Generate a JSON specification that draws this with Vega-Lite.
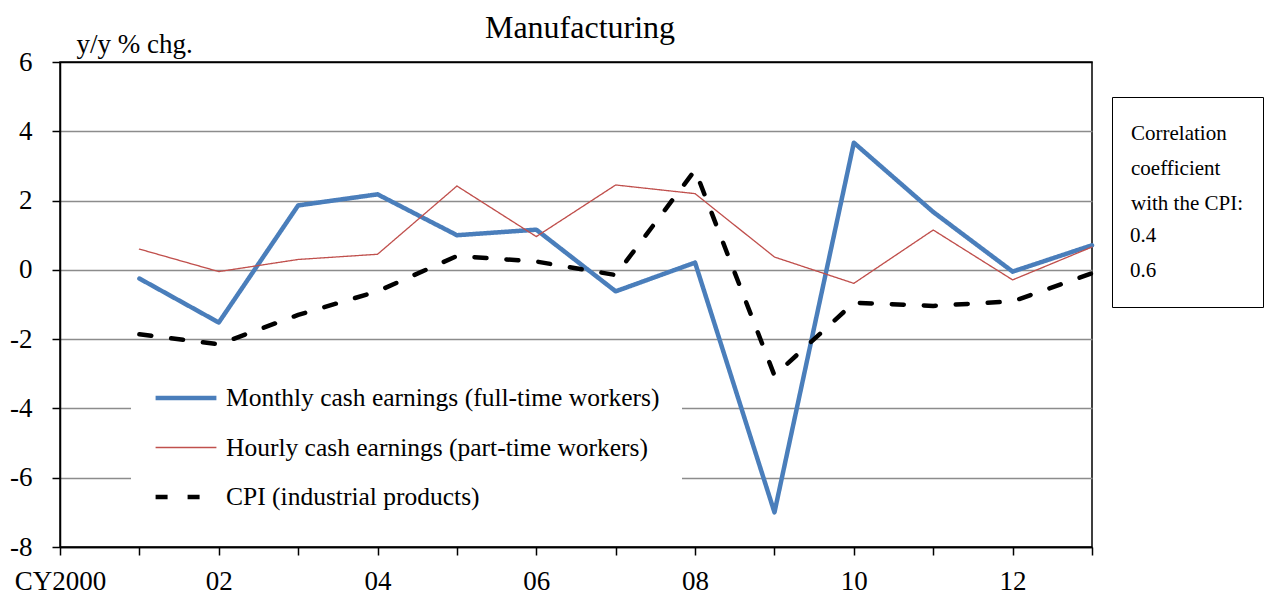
{
  "$schema": "https://vega.github.io/schema/vega-lite/v6.json",
  "width": 1032,
  "height": 485,
  "autosize": {"type": "none"},
  "padding": {"left": 60, "top": 62, "right": 177, "bottom": 49},
  "background": "white",
  "title": {"text": "Manufacturing", "font": "Liberation Serif", "fontSize": 32, "fontWeight": "normal", "color": "black", "frame": "group", "anchor": "middle", "baseline": "alphabetic", "offset": -40, "dx": 4},
  "config": {"view": {"stroke": "black", "strokeWidth": 1.5}, "font": "Liberation Serif"},
  "datasets": {
    "series": [
      {"series": "Monthly cash earnings (full-time workers)", "year": 2001, "value": -0.25},
      {"series": "Monthly cash earnings (full-time workers)", "year": 2002, "value": -1.52},
      {"series": "Monthly cash earnings (full-time workers)", "year": 2003, "value": 1.86},
      {"series": "Monthly cash earnings (full-time workers)", "year": 2004, "value": 2.18},
      {"series": "Monthly cash earnings (full-time workers)", "year": 2005, "value": 1.0},
      {"series": "Monthly cash earnings (full-time workers)", "year": 2006, "value": 1.16},
      {"series": "Monthly cash earnings (full-time workers)", "year": 2007, "value": -0.62},
      {"series": "Monthly cash earnings (full-time workers)", "year": 2008, "value": 0.21},
      {"series": "Monthly cash earnings (full-time workers)", "year": 2009, "value": -7.0},
      {"series": "Monthly cash earnings (full-time workers)", "year": 2010, "value": 3.67},
      {"series": "Monthly cash earnings (full-time workers)", "year": 2011, "value": 1.67},
      {"series": "Monthly cash earnings (full-time workers)", "year": 2012, "value": -0.05},
      {"series": "Monthly cash earnings (full-time workers)", "year": 2013, "value": 0.71},
      {"series": "Hourly cash earnings (part-time workers)", "year": 2001, "value": 0.6},
      {"series": "Hourly cash earnings (part-time workers)", "year": 2002, "value": -0.05},
      {"series": "Hourly cash earnings (part-time workers)", "year": 2003, "value": 0.3},
      {"series": "Hourly cash earnings (part-time workers)", "year": 2004, "value": 0.45},
      {"series": "Hourly cash earnings (part-time workers)", "year": 2005, "value": 2.42},
      {"series": "Hourly cash earnings (part-time workers)", "year": 2006, "value": 0.96},
      {"series": "Hourly cash earnings (part-time workers)", "year": 2007, "value": 2.45},
      {"series": "Hourly cash earnings (part-time workers)", "year": 2008, "value": 2.2},
      {"series": "Hourly cash earnings (part-time workers)", "year": 2009, "value": 0.37},
      {"series": "Hourly cash earnings (part-time workers)", "year": 2010, "value": -0.39},
      {"series": "Hourly cash earnings (part-time workers)", "year": 2011, "value": 1.15},
      {"series": "Hourly cash earnings (part-time workers)", "year": 2012, "value": -0.29},
      {"series": "Hourly cash earnings (part-time workers)", "year": 2013, "value": 0.66},
      {"series": "CPI (industrial products)", "year": 2001, "value": -1.86},
      {"series": "CPI (industrial products)", "year": 2002, "value": -2.15},
      {"series": "CPI (industrial products)", "year": 2003, "value": -1.3},
      {"series": "CPI (industrial products)", "year": 2004, "value": -0.62},
      {"series": "CPI (industrial products)", "year": 2005, "value": 0.4},
      {"series": "CPI (industrial products)", "year": 2006, "value": 0.24},
      {"series": "CPI (industrial products)", "year": 2007, "value": -0.15},
      {"series": "CPI (industrial products)", "year": 2008, "value": 2.88},
      {"series": "CPI (industrial products)", "year": 2009, "value": -3.05},
      {"series": "CPI (industrial products)", "year": 2010, "value": -0.95},
      {"series": "CPI (industrial products)", "year": 2011, "value": -1.04},
      {"series": "CPI (industrial products)", "year": 2012, "value": -0.91},
      {"series": "CPI (industrial products)", "year": 2013, "value": -0.1}
    ],
    "corr": [
      {"series": "Monthly cash earnings (full-time workers)", "coef": "0.4"},
      {"series": "Hourly cash earnings (part-time workers)", "coef": "0.6"}
    ]
  },
  "layer": [
    {
      "data": {"name": "series"},
      "mark": {"type": "line", "strokeCap": "round", "strokeJoin": "round"},
      "encoding": {
        "x": {
          "field": "year", "type": "quantitative",
          "scale": {"domain": [2000, 2013], "nice": false, "zero": false},
          "axis": {
            "title": null, "grid": false,
            "values": [2000, 2001, 2002, 2003, 2004, 2005, 2006, 2007, 2008, 2009, 2010, 2011, 2012, 2013],
            "labelExpr": "datum.value == 2000 ? 'CY2000' : ((datum.value % 2 == 0 && datum.value < 2013) ? slice(toString(datum.value), 2) : '')",
            "labelFont": "Liberation Serif", "labelFontSize": 27, "labelColor": "black",
            "labelPadding": 13, "labelFlush": false, "labelOverlap": false,
            "domainColor": "black", "domainWidth": 1.5,
            "tickColor": "black", "tickWidth": 1.5, "tickSize": 8
          }
        },
        "y": {
          "field": "value", "type": "quantitative",
          "scale": {"domain": [-8, 6], "nice": false, "zero": false},
          "axis": {
            "values": [-8, -6, -4, -2, 0, 2, 4, 6],
            "labelExpr": "toString(datum.value)",
            "title": "y/y % chg.", "titleAngle": 0, "titleX": 16, "titleY": -10,
            "titleAlign": "left", "titleBaseline": "alphabetic",
            "titleFont": "Liberation Serif", "titleFontSize": 27, "titleFontWeight": "normal", "titleColor": "black",
            "grid": true,
            "gridColor": {"condition": {"test": "datum.value == 6 || datum.value == -8", "value": "black"}, "value": "#8c8c8c"},
            "gridWidth": 1.5,
            "labelFont": "Liberation Serif", "labelFontSize": 27, "labelColor": "black",
            "labelPadding": 20, "labelFlush": false,
            "domainColor": "black", "domainWidth": 1.5,
            "tickColor": "black", "tickWidth": 1.5, "tickSize": 8
          }
        },
        "color": {
          "field": "series", "type": "nominal",
          "scale": {
            "domain": ["Monthly cash earnings (full-time workers)", "Hourly cash earnings (part-time workers)", "CPI (industrial products)"],
            "range": ["#4a7ebb", "#c0504d", "#000000"]
          },
          "legend": {
            "orient": "none", "legendX": 71, "legendY": 301, "title": null,
            "symbolType": "stroke", "symbolSize": 3700, "fillColor": "white", "padding": 22,
            "labelFont": "Liberation Serif", "labelFontSize": 25.5, "labelColor": "black",
            "labelOffset": 7, "labelLimit": 800, "clipHeight": 26, "rowPadding": 22.5
          }
        },
        "strokeDash": {
          "field": "series", "type": "nominal",
          "scale": {
            "domain": ["Monthly cash earnings (full-time workers)", "Hourly cash earnings (part-time workers)", "CPI (industrial products)"],
            "range": [[1, 0], [1, 0], [12, 20]]
          }
        },
        "strokeWidth": {
          "field": "series", "type": "nominal",
          "scale": {
            "type": "ordinal",
            "domain": ["Monthly cash earnings (full-time workers)", "Hourly cash earnings (part-time workers)", "CPI (industrial products)"],
            "range": [4.5, 1.3, 4.5]
          }
        }
      }
    },
    {
      "data": {"name": "corr"},
      "mark": {"type": "point", "opacity": 0},
      "encoding": {
        "shape": {
          "field": "coef", "type": "nominal",
          "legend": {
            "orient": "none", "legendX": 1052, "legendY": 35,
            "title": ["Correlation", "coefficient", "with the CPI:"],
            "titleFont": "Liberation Serif", "titleFontSize": 21, "titleFontWeight": "normal",
            "titleLineHeight": 35, "titleBaseline": "line-top", "titleColor": "black", "titlePadding": 11,
            "labelFont": "Liberation Serif", "labelFontSize": 21, "labelColor": "black",
            "clipHeight": 35, "rowPadding": 0, "symbolSize": 0, "symbolOpacity": 0, "symbolStrokeWidth": 0,
            "labelOffset": -22, "strokeColor": "black", "fillColor": "white", "padding": 19
          }
        }
      }
    }
  ]
}
